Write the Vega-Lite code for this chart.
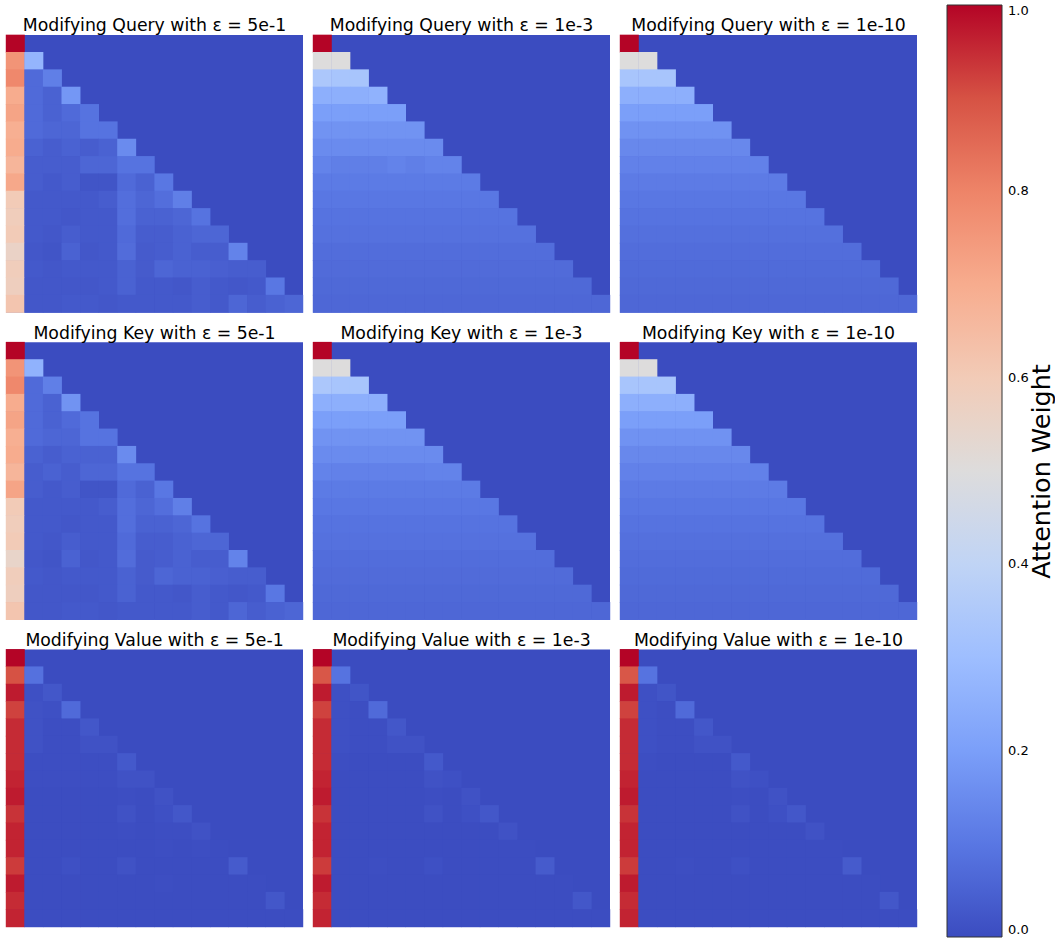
{"$schema":"https://vega.github.io/schema/vega-lite/v6.json","padding":{"left":5,"top":5,"right":0,"bottom":0},"background":"white","config":{"view":{"fill":"#3b4cc0","stroke":null},"font":"DejaVu Sans"},
"title":{"text":"Attention Weight","orient":"right","angle":270,"anchor":"middle","fontSize":25.5,"fontWeight":"normal","font":"DejaVu Sans","color":"#000","offset":-15,"dy":-10},
"data":{"values":[
{"p":"Q5","x":0,"y":0,"v":1},
{"p":"Q5","x":0,"y":1,"v":0.76},{"p":"Q5","x":1,"y":1,"v":0.27},
{"p":"Q5","x":0,"y":2,"v":0.79},{"p":"Q5","x":1,"y":2,"v":0.07},{"p":"Q5","x":2,"y":2,"v":0.12},
{"p":"Q5","x":0,"y":3,"v":0.7},{"p":"Q5","x":1,"y":3,"v":0.07},{"p":"Q5","x":2,"y":3,"v":0.05},{"p":"Q5","x":3,"y":3,"v":0.18},
{"p":"Q5","x":0,"y":4,"v":0.72},{"p":"Q5","x":1,"y":4,"v":0.07},{"p":"Q5","x":2,"y":4,"v":0.05},{"p":"Q5","x":3,"y":4,"v":0.07},{"p":"Q5","x":4,"y":4,"v":0.09},
{"p":"Q5","x":0,"y":5,"v":0.69},{"p":"Q5","x":1,"y":5,"v":0.07},{"p":"Q5","x":2,"y":5,"v":0.06},{"p":"Q5","x":3,"y":5,"v":0.06},{"p":"Q5","x":4,"y":5,"v":0.09},{"p":"Q5","x":5,"y":5,"v":0.09},
{"p":"Q5","x":0,"y":6,"v":0.7},{"p":"Q5","x":1,"y":6,"v":0.05},{"p":"Q5","x":2,"y":6,"v":0.04},{"p":"Q5","x":3,"y":6,"v":0.05},{"p":"Q5","x":4,"y":6,"v":0.04},{"p":"Q5","x":5,"y":6,"v":0.05},{"p":"Q5","x":6,"y":6,"v":0.15},
{"p":"Q5","x":0,"y":7,"v":0.67},{"p":"Q5","x":1,"y":7,"v":0.04},{"p":"Q5","x":2,"y":7,"v":0.04},{"p":"Q5","x":3,"y":7,"v":0.04},{"p":"Q5","x":4,"y":7,"v":0.06},{"p":"Q5","x":5,"y":7,"v":0.06},{"p":"Q5","x":6,"y":7,"v":0.09},{"p":"Q5","x":7,"y":7,"v":0.09},
{"p":"Q5","x":0,"y":8,"v":0.71},{"p":"Q5","x":1,"y":8,"v":0.04},{"p":"Q5","x":2,"y":8,"v":0.03},{"p":"Q5","x":3,"y":8,"v":0.04},{"p":"Q5","x":4,"y":8,"v":0.02},{"p":"Q5","x":5,"y":8,"v":0.02},{"p":"Q5","x":6,"y":8,"v":0.07},{"p":"Q5","x":7,"y":8,"v":0.05},{"p":"Q5","x":8,"y":8,"v":0.1},
{"p":"Q5","x":0,"y":9,"v":0.6},{"p":"Q5","x":1,"y":9,"v":0.03},{"p":"Q5","x":2,"y":9,"v":0.03},{"p":"Q5","x":3,"y":9,"v":0.03},{"p":"Q5","x":4,"y":9,"v":0.03},{"p":"Q5","x":5,"y":9,"v":0.04},{"p":"Q5","x":6,"y":9,"v":0.08},{"p":"Q5","x":7,"y":9,"v":0.06},{"p":"Q5","x":8,"y":9,"v":0.08},{"p":"Q5","x":9,"y":9,"v":0.12},
{"p":"Q5","x":0,"y":10,"v":0.59},{"p":"Q5","x":1,"y":10,"v":0.03},{"p":"Q5","x":2,"y":10,"v":0.03},{"p":"Q5","x":3,"y":10,"v":0.025},{"p":"Q5","x":4,"y":10,"v":0.03},{"p":"Q5","x":5,"y":10,"v":0.03},{"p":"Q5","x":6,"y":10,"v":0.08},{"p":"Q5","x":7,"y":10,"v":0.05},{"p":"Q5","x":8,"y":10,"v":0.05},{"p":"Q5","x":9,"y":10,"v":0.06},{"p":"Q5","x":10,"y":10,"v":0.09},
{"p":"Q5","x":0,"y":11,"v":0.6},{"p":"Q5","x":1,"y":11,"v":0.03},{"p":"Q5","x":2,"y":11,"v":0.025},{"p":"Q5","x":3,"y":11,"v":0.04},{"p":"Q5","x":4,"y":11,"v":0.03},{"p":"Q5","x":5,"y":11,"v":0.03},{"p":"Q5","x":6,"y":11,"v":0.07},{"p":"Q5","x":7,"y":11,"v":0.04},{"p":"Q5","x":8,"y":11,"v":0.04},{"p":"Q5","x":9,"y":11,"v":0.05},{"p":"Q5","x":10,"y":11,"v":0.06},{"p":"Q5","x":11,"y":11,"v":0.06},
{"p":"Q5","x":0,"y":12,"v":0.56},{"p":"Q5","x":1,"y":12,"v":0.025},{"p":"Q5","x":2,"y":12,"v":0.02},{"p":"Q5","x":3,"y":12,"v":0.05},{"p":"Q5","x":4,"y":12,"v":0.025},{"p":"Q5","x":5,"y":12,"v":0.03},{"p":"Q5","x":6,"y":12,"v":0.075},{"p":"Q5","x":7,"y":12,"v":0.035},{"p":"Q5","x":8,"y":12,"v":0.04},{"p":"Q5","x":9,"y":12,"v":0.05},{"p":"Q5","x":10,"y":12,"v":0.04},{"p":"Q5","x":11,"y":12,"v":0.04},{"p":"Q5","x":12,"y":12,"v":0.13},
{"p":"Q5","x":0,"y":13,"v":0.59},{"p":"Q5","x":1,"y":13,"v":0.03},{"p":"Q5","x":2,"y":13,"v":0.025},{"p":"Q5","x":3,"y":13,"v":0.03},{"p":"Q5","x":4,"y":13,"v":0.03},{"p":"Q5","x":5,"y":13,"v":0.03},{"p":"Q5","x":6,"y":13,"v":0.05},{"p":"Q5","x":7,"y":13,"v":0.035},{"p":"Q5","x":8,"y":13,"v":0.06},{"p":"Q5","x":9,"y":13,"v":0.05},{"p":"Q5","x":10,"y":13,"v":0.05},{"p":"Q5","x":11,"y":13,"v":0.045},{"p":"Q5","x":12,"y":13,"v":0.04},{"p":"Q5","x":13,"y":13,"v":0.04},
{"p":"Q5","x":0,"y":14,"v":0.58},{"p":"Q5","x":1,"y":14,"v":0.025},{"p":"Q5","x":2,"y":14,"v":0.025},{"p":"Q5","x":3,"y":14,"v":0.025},{"p":"Q5","x":4,"y":14,"v":0.025},{"p":"Q5","x":5,"y":14,"v":0.03},{"p":"Q5","x":6,"y":14,"v":0.05},{"p":"Q5","x":7,"y":14,"v":0.03},{"p":"Q5","x":8,"y":14,"v":0.03},{"p":"Q5","x":9,"y":14,"v":0.025},{"p":"Q5","x":10,"y":14,"v":0.04},{"p":"Q5","x":11,"y":14,"v":0.03},{"p":"Q5","x":12,"y":14,"v":0.025},{"p":"Q5","x":13,"y":14,"v":0.03},{"p":"Q5","x":14,"y":14,"v":0.1},
{"p":"Q5","x":0,"y":15,"v":0.62},{"p":"Q5","x":1,"y":15,"v":0.025},{"p":"Q5","x":2,"y":15,"v":0.025},{"p":"Q5","x":3,"y":15,"v":0.03},{"p":"Q5","x":4,"y":15,"v":0.03},{"p":"Q5","x":5,"y":15,"v":0.025},{"p":"Q5","x":6,"y":15,"v":0.03},{"p":"Q5","x":7,"y":15,"v":0.03},{"p":"Q5","x":8,"y":15,"v":0.03},{"p":"Q5","x":9,"y":15,"v":0.03},{"p":"Q5","x":10,"y":15,"v":0.04},{"p":"Q5","x":11,"y":15,"v":0.03},{"p":"Q5","x":12,"y":15,"v":0.06},{"p":"Q5","x":13,"y":15,"v":0.04},{"p":"Q5","x":14,"y":15,"v":0.05},{"p":"Q5","x":15,"y":15,"v":0.06},
{"p":"K5","x":0,"y":0,"v":1},
{"p":"K5","x":0,"y":1,"v":0.76},{"p":"K5","x":1,"y":1,"v":0.26},
{"p":"K5","x":0,"y":2,"v":0.79},{"p":"K5","x":1,"y":2,"v":0.07},{"p":"K5","x":2,"y":2,"v":0.12},
{"p":"K5","x":0,"y":3,"v":0.7},{"p":"K5","x":1,"y":3,"v":0.07},{"p":"K5","x":2,"y":3,"v":0.05},{"p":"K5","x":3,"y":3,"v":0.17},
{"p":"K5","x":0,"y":4,"v":0.72},{"p":"K5","x":1,"y":4,"v":0.07},{"p":"K5","x":2,"y":4,"v":0.05},{"p":"K5","x":3,"y":4,"v":0.07},{"p":"K5","x":4,"y":4,"v":0.09},
{"p":"K5","x":0,"y":5,"v":0.69},{"p":"K5","x":1,"y":5,"v":0.07},{"p":"K5","x":2,"y":5,"v":0.06},{"p":"K5","x":3,"y":5,"v":0.06},{"p":"K5","x":4,"y":5,"v":0.09},{"p":"K5","x":5,"y":5,"v":0.09},
{"p":"K5","x":0,"y":6,"v":0.7},{"p":"K5","x":1,"y":6,"v":0.05},{"p":"K5","x":2,"y":6,"v":0.04},{"p":"K5","x":3,"y":6,"v":0.05},{"p":"K5","x":4,"y":6,"v":0.05},{"p":"K5","x":5,"y":6,"v":0.05},{"p":"K5","x":6,"y":6,"v":0.15},
{"p":"K5","x":0,"y":7,"v":0.67},{"p":"K5","x":1,"y":7,"v":0.04},{"p":"K5","x":2,"y":7,"v":0.05},{"p":"K5","x":3,"y":7,"v":0.04},{"p":"K5","x":4,"y":7,"v":0.06},{"p":"K5","x":5,"y":7,"v":0.06},{"p":"K5","x":6,"y":7,"v":0.09},{"p":"K5","x":7,"y":7,"v":0.09},
{"p":"K5","x":0,"y":8,"v":0.72},{"p":"K5","x":1,"y":8,"v":0.04},{"p":"K5","x":2,"y":8,"v":0.03},{"p":"K5","x":3,"y":8,"v":0.04},{"p":"K5","x":4,"y":8,"v":0.02},{"p":"K5","x":5,"y":8,"v":0.02},{"p":"K5","x":6,"y":8,"v":0.07},{"p":"K5","x":7,"y":8,"v":0.05},{"p":"K5","x":8,"y":8,"v":0.1},
{"p":"K5","x":0,"y":9,"v":0.6},{"p":"K5","x":1,"y":9,"v":0.03},{"p":"K5","x":2,"y":9,"v":0.03},{"p":"K5","x":3,"y":9,"v":0.03},{"p":"K5","x":4,"y":9,"v":0.03},{"p":"K5","x":5,"y":9,"v":0.04},{"p":"K5","x":6,"y":9,"v":0.08},{"p":"K5","x":7,"y":9,"v":0.06},{"p":"K5","x":8,"y":9,"v":0.08},{"p":"K5","x":9,"y":9,"v":0.12},
{"p":"K5","x":0,"y":10,"v":0.59},{"p":"K5","x":1,"y":10,"v":0.03},{"p":"K5","x":2,"y":10,"v":0.03},{"p":"K5","x":3,"y":10,"v":0.025},{"p":"K5","x":4,"y":10,"v":0.03},{"p":"K5","x":5,"y":10,"v":0.03},{"p":"K5","x":6,"y":10,"v":0.08},{"p":"K5","x":7,"y":10,"v":0.05},{"p":"K5","x":8,"y":10,"v":0.05},{"p":"K5","x":9,"y":10,"v":0.06},{"p":"K5","x":10,"y":10,"v":0.09},
{"p":"K5","x":0,"y":11,"v":0.6},{"p":"K5","x":1,"y":11,"v":0.03},{"p":"K5","x":2,"y":11,"v":0.025},{"p":"K5","x":3,"y":11,"v":0.04},{"p":"K5","x":4,"y":11,"v":0.03},{"p":"K5","x":5,"y":11,"v":0.03},{"p":"K5","x":6,"y":11,"v":0.07},{"p":"K5","x":7,"y":11,"v":0.04},{"p":"K5","x":8,"y":11,"v":0.04},{"p":"K5","x":9,"y":11,"v":0.05},{"p":"K5","x":10,"y":11,"v":0.06},{"p":"K5","x":11,"y":11,"v":0.06},
{"p":"K5","x":0,"y":12,"v":0.55},{"p":"K5","x":1,"y":12,"v":0.025},{"p":"K5","x":2,"y":12,"v":0.02},{"p":"K5","x":3,"y":12,"v":0.05},{"p":"K5","x":4,"y":12,"v":0.025},{"p":"K5","x":5,"y":12,"v":0.03},{"p":"K5","x":6,"y":12,"v":0.075},{"p":"K5","x":7,"y":12,"v":0.035},{"p":"K5","x":8,"y":12,"v":0.04},{"p":"K5","x":9,"y":12,"v":0.05},{"p":"K5","x":10,"y":12,"v":0.04},{"p":"K5","x":11,"y":12,"v":0.04},{"p":"K5","x":12,"y":12,"v":0.13},
{"p":"K5","x":0,"y":13,"v":0.59},{"p":"K5","x":1,"y":13,"v":0.03},{"p":"K5","x":2,"y":13,"v":0.025},{"p":"K5","x":3,"y":13,"v":0.03},{"p":"K5","x":4,"y":13,"v":0.03},{"p":"K5","x":5,"y":13,"v":0.03},{"p":"K5","x":6,"y":13,"v":0.05},{"p":"K5","x":7,"y":13,"v":0.035},{"p":"K5","x":8,"y":13,"v":0.06},{"p":"K5","x":9,"y":13,"v":0.05},{"p":"K5","x":10,"y":13,"v":0.05},{"p":"K5","x":11,"y":13,"v":0.045},{"p":"K5","x":12,"y":13,"v":0.04},{"p":"K5","x":13,"y":13,"v":0.04},
{"p":"K5","x":0,"y":14,"v":0.58},{"p":"K5","x":1,"y":14,"v":0.025},{"p":"K5","x":2,"y":14,"v":0.025},{"p":"K5","x":3,"y":14,"v":0.025},{"p":"K5","x":4,"y":14,"v":0.025},{"p":"K5","x":5,"y":14,"v":0.03},{"p":"K5","x":6,"y":14,"v":0.05},{"p":"K5","x":7,"y":14,"v":0.03},{"p":"K5","x":8,"y":14,"v":0.03},{"p":"K5","x":9,"y":14,"v":0.025},{"p":"K5","x":10,"y":14,"v":0.04},{"p":"K5","x":11,"y":14,"v":0.03},{"p":"K5","x":12,"y":14,"v":0.025},{"p":"K5","x":13,"y":14,"v":0.03},{"p":"K5","x":14,"y":14,"v":0.1},
{"p":"K5","x":0,"y":15,"v":0.62},{"p":"K5","x":1,"y":15,"v":0.025},{"p":"K5","x":2,"y":15,"v":0.025},{"p":"K5","x":3,"y":15,"v":0.03},{"p":"K5","x":4,"y":15,"v":0.03},{"p":"K5","x":5,"y":15,"v":0.025},{"p":"K5","x":6,"y":15,"v":0.03},{"p":"K5","x":7,"y":15,"v":0.03},{"p":"K5","x":8,"y":15,"v":0.03},{"p":"K5","x":9,"y":15,"v":0.03},{"p":"K5","x":10,"y":15,"v":0.04},{"p":"K5","x":11,"y":15,"v":0.03},{"p":"K5","x":12,"y":15,"v":0.06},{"p":"K5","x":13,"y":15,"v":0.04},{"p":"K5","x":14,"y":15,"v":0.05},{"p":"K5","x":15,"y":15,"v":0.06},
{"p":"Q3","x":0,"y":0,"v":1},
{"p":"Q3","x":0,"y":1,"v":0.5},{"p":"Q3","x":1,"y":1,"v":0.5},
{"p":"Q3","x":0,"y":2,"v":0.34},{"p":"Q3","x":1,"y":2,"v":0.33},{"p":"Q3","x":2,"y":2,"v":0.33},
{"p":"Q3","x":0,"y":3,"v":0.25},{"p":"Q3","x":1,"y":3,"v":0.25},{"p":"Q3","x":2,"y":3,"v":0.25},{"p":"Q3","x":3,"y":3,"v":0.26},
{"p":"Q3","x":0,"y":4,"v":0.2},{"p":"Q3","x":1,"y":4,"v":0.2},{"p":"Q3","x":2,"y":4,"v":0.2},{"p":"Q3","x":3,"y":4,"v":0.2},{"p":"Q3","x":4,"y":4,"v":0.2},
{"p":"Q3","x":0,"y":5,"v":0.17},{"p":"Q3","x":1,"y":5,"v":0.17},{"p":"Q3","x":2,"y":5,"v":0.17},{"p":"Q3","x":3,"y":5,"v":0.17},{"p":"Q3","x":4,"y":5,"v":0.17},{"p":"Q3","x":5,"y":5,"v":0.17},
{"p":"Q3","x":0,"y":6,"v":0.15},{"p":"Q3","x":1,"y":6,"v":0.15},{"p":"Q3","x":2,"y":6,"v":0.15},{"p":"Q3","x":3,"y":6,"v":0.15},{"p":"Q3","x":4,"y":6,"v":0.15},{"p":"Q3","x":5,"y":6,"v":0.15},{"p":"Q3","x":6,"y":6,"v":0.15},
{"p":"Q3","x":0,"y":7,"v":0.13},{"p":"Q3","x":1,"y":7,"v":0.12},{"p":"Q3","x":2,"y":7,"v":0.12},{"p":"Q3","x":3,"y":7,"v":0.12},{"p":"Q3","x":4,"y":7,"v":0.13},{"p":"Q3","x":5,"y":7,"v":0.12},{"p":"Q3","x":6,"y":7,"v":0.13},{"p":"Q3","x":7,"y":7,"v":0.13},
{"p":"Q3","x":0,"y":8,"v":0.11},{"p":"Q3","x":1,"y":8,"v":0.11},{"p":"Q3","x":2,"y":8,"v":0.11},{"p":"Q3","x":3,"y":8,"v":0.11},{"p":"Q3","x":4,"y":8,"v":0.11},{"p":"Q3","x":5,"y":8,"v":0.11},{"p":"Q3","x":6,"y":8,"v":0.11},{"p":"Q3","x":7,"y":8,"v":0.11},{"p":"Q3","x":8,"y":8,"v":0.11},
{"p":"Q3","x":0,"y":9,"v":0.1},{"p":"Q3","x":1,"y":9,"v":0.1},{"p":"Q3","x":2,"y":9,"v":0.1},{"p":"Q3","x":3,"y":9,"v":0.1},{"p":"Q3","x":4,"y":9,"v":0.1},{"p":"Q3","x":5,"y":9,"v":0.1},{"p":"Q3","x":6,"y":9,"v":0.1},{"p":"Q3","x":7,"y":9,"v":0.1},{"p":"Q3","x":8,"y":9,"v":0.1},{"p":"Q3","x":9,"y":9,"v":0.1},
{"p":"Q3","x":0,"y":10,"v":0.09},{"p":"Q3","x":1,"y":10,"v":0.09},{"p":"Q3","x":2,"y":10,"v":0.09},{"p":"Q3","x":3,"y":10,"v":0.09},{"p":"Q3","x":4,"y":10,"v":0.09},{"p":"Q3","x":5,"y":10,"v":0.09},{"p":"Q3","x":6,"y":10,"v":0.09},{"p":"Q3","x":7,"y":10,"v":0.09},{"p":"Q3","x":8,"y":10,"v":0.09},{"p":"Q3","x":9,"y":10,"v":0.09},{"p":"Q3","x":10,"y":10,"v":0.09},
{"p":"Q3","x":0,"y":11,"v":0.085},{"p":"Q3","x":1,"y":11,"v":0.085},{"p":"Q3","x":2,"y":11,"v":0.085},{"p":"Q3","x":3,"y":11,"v":0.085},{"p":"Q3","x":4,"y":11,"v":0.085},{"p":"Q3","x":5,"y":11,"v":0.085},{"p":"Q3","x":6,"y":11,"v":0.085},{"p":"Q3","x":7,"y":11,"v":0.085},{"p":"Q3","x":8,"y":11,"v":0.085},{"p":"Q3","x":9,"y":11,"v":0.085},{"p":"Q3","x":10,"y":11,"v":0.085},{"p":"Q3","x":11,"y":11,"v":0.085},
{"p":"Q3","x":0,"y":12,"v":0.077},{"p":"Q3","x":1,"y":12,"v":0.077},{"p":"Q3","x":2,"y":12,"v":0.077},{"p":"Q3","x":3,"y":12,"v":0.077},{"p":"Q3","x":4,"y":12,"v":0.077},{"p":"Q3","x":5,"y":12,"v":0.077},{"p":"Q3","x":6,"y":12,"v":0.077},{"p":"Q3","x":7,"y":12,"v":0.077},{"p":"Q3","x":8,"y":12,"v":0.077},{"p":"Q3","x":9,"y":12,"v":0.077},{"p":"Q3","x":10,"y":12,"v":0.077},{"p":"Q3","x":11,"y":12,"v":0.077},{"p":"Q3","x":12,"y":12,"v":0.077},
{"p":"Q3","x":0,"y":13,"v":0.072},{"p":"Q3","x":1,"y":13,"v":0.072},{"p":"Q3","x":2,"y":13,"v":0.072},{"p":"Q3","x":3,"y":13,"v":0.072},{"p":"Q3","x":4,"y":13,"v":0.072},{"p":"Q3","x":5,"y":13,"v":0.072},{"p":"Q3","x":6,"y":13,"v":0.072},{"p":"Q3","x":7,"y":13,"v":0.072},{"p":"Q3","x":8,"y":13,"v":0.072},{"p":"Q3","x":9,"y":13,"v":0.072},{"p":"Q3","x":10,"y":13,"v":0.072},{"p":"Q3","x":11,"y":13,"v":0.072},{"p":"Q3","x":12,"y":13,"v":0.072},{"p":"Q3","x":13,"y":13,"v":0.072},
{"p":"Q3","x":0,"y":14,"v":0.067},{"p":"Q3","x":1,"y":14,"v":0.067},{"p":"Q3","x":2,"y":14,"v":0.067},{"p":"Q3","x":3,"y":14,"v":0.067},{"p":"Q3","x":4,"y":14,"v":0.067},{"p":"Q3","x":5,"y":14,"v":0.067},{"p":"Q3","x":6,"y":14,"v":0.067},{"p":"Q3","x":7,"y":14,"v":0.067},{"p":"Q3","x":8,"y":14,"v":0.067},{"p":"Q3","x":9,"y":14,"v":0.067},{"p":"Q3","x":10,"y":14,"v":0.067},{"p":"Q3","x":11,"y":14,"v":0.067},{"p":"Q3","x":12,"y":14,"v":0.067},{"p":"Q3","x":13,"y":14,"v":0.067},{"p":"Q3","x":14,"y":14,"v":0.067},
{"p":"Q3","x":0,"y":15,"v":0.062},{"p":"Q3","x":1,"y":15,"v":0.062},{"p":"Q3","x":2,"y":15,"v":0.062},{"p":"Q3","x":3,"y":15,"v":0.062},{"p":"Q3","x":4,"y":15,"v":0.062},{"p":"Q3","x":5,"y":15,"v":0.062},{"p":"Q3","x":6,"y":15,"v":0.062},{"p":"Q3","x":7,"y":15,"v":0.062},{"p":"Q3","x":8,"y":15,"v":0.062},{"p":"Q3","x":9,"y":15,"v":0.062},{"p":"Q3","x":10,"y":15,"v":0.062},{"p":"Q3","x":11,"y":15,"v":0.062},{"p":"Q3","x":12,"y":15,"v":0.062},{"p":"Q3","x":13,"y":15,"v":0.062},{"p":"Q3","x":14,"y":15,"v":0.062},{"p":"Q3","x":15,"y":15,"v":0.062},
{"p":"K3","x":0,"y":0,"v":1},
{"p":"K3","x":0,"y":1,"v":0.5},{"p":"K3","x":1,"y":1,"v":0.5},
{"p":"K3","x":0,"y":2,"v":0.34},{"p":"K3","x":1,"y":2,"v":0.33},{"p":"K3","x":2,"y":2,"v":0.33},
{"p":"K3","x":0,"y":3,"v":0.25},{"p":"K3","x":1,"y":3,"v":0.25},{"p":"K3","x":2,"y":3,"v":0.25},{"p":"K3","x":3,"y":3,"v":0.25},
{"p":"K3","x":0,"y":4,"v":0.2},{"p":"K3","x":1,"y":4,"v":0.2},{"p":"K3","x":2,"y":4,"v":0.2},{"p":"K3","x":3,"y":4,"v":0.2},{"p":"K3","x":4,"y":4,"v":0.2},
{"p":"K3","x":0,"y":5,"v":0.17},{"p":"K3","x":1,"y":5,"v":0.17},{"p":"K3","x":2,"y":5,"v":0.17},{"p":"K3","x":3,"y":5,"v":0.17},{"p":"K3","x":4,"y":5,"v":0.17},{"p":"K3","x":5,"y":5,"v":0.17},
{"p":"K3","x":0,"y":6,"v":0.15},{"p":"K3","x":1,"y":6,"v":0.15},{"p":"K3","x":2,"y":6,"v":0.15},{"p":"K3","x":3,"y":6,"v":0.15},{"p":"K3","x":4,"y":6,"v":0.15},{"p":"K3","x":5,"y":6,"v":0.15},{"p":"K3","x":6,"y":6,"v":0.15},
{"p":"K3","x":0,"y":7,"v":0.13},{"p":"K3","x":1,"y":7,"v":0.125},{"p":"K3","x":2,"y":7,"v":0.125},{"p":"K3","x":3,"y":7,"v":0.125},{"p":"K3","x":4,"y":7,"v":0.125},{"p":"K3","x":5,"y":7,"v":0.125},{"p":"K3","x":6,"y":7,"v":0.13},{"p":"K3","x":7,"y":7,"v":0.13},
{"p":"K3","x":0,"y":8,"v":0.11},{"p":"K3","x":1,"y":8,"v":0.11},{"p":"K3","x":2,"y":8,"v":0.11},{"p":"K3","x":3,"y":8,"v":0.11},{"p":"K3","x":4,"y":8,"v":0.11},{"p":"K3","x":5,"y":8,"v":0.11},{"p":"K3","x":6,"y":8,"v":0.11},{"p":"K3","x":7,"y":8,"v":0.11},{"p":"K3","x":8,"y":8,"v":0.11},
{"p":"K3","x":0,"y":9,"v":0.1},{"p":"K3","x":1,"y":9,"v":0.1},{"p":"K3","x":2,"y":9,"v":0.1},{"p":"K3","x":3,"y":9,"v":0.1},{"p":"K3","x":4,"y":9,"v":0.1},{"p":"K3","x":5,"y":9,"v":0.1},{"p":"K3","x":6,"y":9,"v":0.1},{"p":"K3","x":7,"y":9,"v":0.1},{"p":"K3","x":8,"y":9,"v":0.1},{"p":"K3","x":9,"y":9,"v":0.1},
{"p":"K3","x":0,"y":10,"v":0.09},{"p":"K3","x":1,"y":10,"v":0.09},{"p":"K3","x":2,"y":10,"v":0.09},{"p":"K3","x":3,"y":10,"v":0.09},{"p":"K3","x":4,"y":10,"v":0.09},{"p":"K3","x":5,"y":10,"v":0.09},{"p":"K3","x":6,"y":10,"v":0.09},{"p":"K3","x":7,"y":10,"v":0.09},{"p":"K3","x":8,"y":10,"v":0.09},{"p":"K3","x":9,"y":10,"v":0.09},{"p":"K3","x":10,"y":10,"v":0.09},
{"p":"K3","x":0,"y":11,"v":0.085},{"p":"K3","x":1,"y":11,"v":0.085},{"p":"K3","x":2,"y":11,"v":0.085},{"p":"K3","x":3,"y":11,"v":0.085},{"p":"K3","x":4,"y":11,"v":0.085},{"p":"K3","x":5,"y":11,"v":0.085},{"p":"K3","x":6,"y":11,"v":0.085},{"p":"K3","x":7,"y":11,"v":0.085},{"p":"K3","x":8,"y":11,"v":0.085},{"p":"K3","x":9,"y":11,"v":0.085},{"p":"K3","x":10,"y":11,"v":0.085},{"p":"K3","x":11,"y":11,"v":0.085},
{"p":"K3","x":0,"y":12,"v":0.077},{"p":"K3","x":1,"y":12,"v":0.077},{"p":"K3","x":2,"y":12,"v":0.077},{"p":"K3","x":3,"y":12,"v":0.077},{"p":"K3","x":4,"y":12,"v":0.077},{"p":"K3","x":5,"y":12,"v":0.077},{"p":"K3","x":6,"y":12,"v":0.077},{"p":"K3","x":7,"y":12,"v":0.077},{"p":"K3","x":8,"y":12,"v":0.077},{"p":"K3","x":9,"y":12,"v":0.077},{"p":"K3","x":10,"y":12,"v":0.077},{"p":"K3","x":11,"y":12,"v":0.077},{"p":"K3","x":12,"y":12,"v":0.077},
{"p":"K3","x":0,"y":13,"v":0.072},{"p":"K3","x":1,"y":13,"v":0.072},{"p":"K3","x":2,"y":13,"v":0.072},{"p":"K3","x":3,"y":13,"v":0.072},{"p":"K3","x":4,"y":13,"v":0.072},{"p":"K3","x":5,"y":13,"v":0.072},{"p":"K3","x":6,"y":13,"v":0.072},{"p":"K3","x":7,"y":13,"v":0.072},{"p":"K3","x":8,"y":13,"v":0.072},{"p":"K3","x":9,"y":13,"v":0.072},{"p":"K3","x":10,"y":13,"v":0.072},{"p":"K3","x":11,"y":13,"v":0.072},{"p":"K3","x":12,"y":13,"v":0.072},{"p":"K3","x":13,"y":13,"v":0.072},
{"p":"K3","x":0,"y":14,"v":0.067},{"p":"K3","x":1,"y":14,"v":0.067},{"p":"K3","x":2,"y":14,"v":0.067},{"p":"K3","x":3,"y":14,"v":0.067},{"p":"K3","x":4,"y":14,"v":0.067},{"p":"K3","x":5,"y":14,"v":0.067},{"p":"K3","x":6,"y":14,"v":0.067},{"p":"K3","x":7,"y":14,"v":0.067},{"p":"K3","x":8,"y":14,"v":0.067},{"p":"K3","x":9,"y":14,"v":0.067},{"p":"K3","x":10,"y":14,"v":0.067},{"p":"K3","x":11,"y":14,"v":0.067},{"p":"K3","x":12,"y":14,"v":0.067},{"p":"K3","x":13,"y":14,"v":0.067},{"p":"K3","x":14,"y":14,"v":0.067},
{"p":"K3","x":0,"y":15,"v":0.062},{"p":"K3","x":1,"y":15,"v":0.062},{"p":"K3","x":2,"y":15,"v":0.062},{"p":"K3","x":3,"y":15,"v":0.062},{"p":"K3","x":4,"y":15,"v":0.062},{"p":"K3","x":5,"y":15,"v":0.062},{"p":"K3","x":6,"y":15,"v":0.062},{"p":"K3","x":7,"y":15,"v":0.062},{"p":"K3","x":8,"y":15,"v":0.062},{"p":"K3","x":9,"y":15,"v":0.062},{"p":"K3","x":10,"y":15,"v":0.062},{"p":"K3","x":11,"y":15,"v":0.062},{"p":"K3","x":12,"y":15,"v":0.062},{"p":"K3","x":13,"y":15,"v":0.062},{"p":"K3","x":14,"y":15,"v":0.062},{"p":"K3","x":15,"y":15,"v":0.062},
{"p":"Q10","x":0,"y":0,"v":1},
{"p":"Q10","x":0,"y":1,"v":0.5},{"p":"Q10","x":1,"y":1,"v":0.5},
{"p":"Q10","x":0,"y":2,"v":0.33},{"p":"Q10","x":1,"y":2,"v":0.33},{"p":"Q10","x":2,"y":2,"v":0.33},
{"p":"Q10","x":0,"y":3,"v":0.25},{"p":"Q10","x":1,"y":3,"v":0.25},{"p":"Q10","x":2,"y":3,"v":0.25},{"p":"Q10","x":3,"y":3,"v":0.25},
{"p":"Q10","x":0,"y":4,"v":0.2},{"p":"Q10","x":1,"y":4,"v":0.2},{"p":"Q10","x":2,"y":4,"v":0.2},{"p":"Q10","x":3,"y":4,"v":0.2},{"p":"Q10","x":4,"y":4,"v":0.2},
{"p":"Q10","x":0,"y":5,"v":0.167},{"p":"Q10","x":1,"y":5,"v":0.167},{"p":"Q10","x":2,"y":5,"v":0.167},{"p":"Q10","x":3,"y":5,"v":0.167},{"p":"Q10","x":4,"y":5,"v":0.167},{"p":"Q10","x":5,"y":5,"v":0.167},
{"p":"Q10","x":0,"y":6,"v":0.143},{"p":"Q10","x":1,"y":6,"v":0.143},{"p":"Q10","x":2,"y":6,"v":0.143},{"p":"Q10","x":3,"y":6,"v":0.143},{"p":"Q10","x":4,"y":6,"v":0.143},{"p":"Q10","x":5,"y":6,"v":0.143},{"p":"Q10","x":6,"y":6,"v":0.143},
{"p":"Q10","x":0,"y":7,"v":0.125},{"p":"Q10","x":1,"y":7,"v":0.125},{"p":"Q10","x":2,"y":7,"v":0.125},{"p":"Q10","x":3,"y":7,"v":0.125},{"p":"Q10","x":4,"y":7,"v":0.125},{"p":"Q10","x":5,"y":7,"v":0.125},{"p":"Q10","x":6,"y":7,"v":0.125},{"p":"Q10","x":7,"y":7,"v":0.125},
{"p":"Q10","x":0,"y":8,"v":0.111},{"p":"Q10","x":1,"y":8,"v":0.111},{"p":"Q10","x":2,"y":8,"v":0.111},{"p":"Q10","x":3,"y":8,"v":0.111},{"p":"Q10","x":4,"y":8,"v":0.111},{"p":"Q10","x":5,"y":8,"v":0.111},{"p":"Q10","x":6,"y":8,"v":0.111},{"p":"Q10","x":7,"y":8,"v":0.111},{"p":"Q10","x":8,"y":8,"v":0.111},
{"p":"Q10","x":0,"y":9,"v":0.1},{"p":"Q10","x":1,"y":9,"v":0.1},{"p":"Q10","x":2,"y":9,"v":0.1},{"p":"Q10","x":3,"y":9,"v":0.1},{"p":"Q10","x":4,"y":9,"v":0.1},{"p":"Q10","x":5,"y":9,"v":0.1},{"p":"Q10","x":6,"y":9,"v":0.1},{"p":"Q10","x":7,"y":9,"v":0.1},{"p":"Q10","x":8,"y":9,"v":0.1},{"p":"Q10","x":9,"y":9,"v":0.1},
{"p":"Q10","x":0,"y":10,"v":0.091},{"p":"Q10","x":1,"y":10,"v":0.091},{"p":"Q10","x":2,"y":10,"v":0.091},{"p":"Q10","x":3,"y":10,"v":0.091},{"p":"Q10","x":4,"y":10,"v":0.091},{"p":"Q10","x":5,"y":10,"v":0.091},{"p":"Q10","x":6,"y":10,"v":0.091},{"p":"Q10","x":7,"y":10,"v":0.091},{"p":"Q10","x":8,"y":10,"v":0.091},{"p":"Q10","x":9,"y":10,"v":0.091},{"p":"Q10","x":10,"y":10,"v":0.091},
{"p":"Q10","x":0,"y":11,"v":0.083},{"p":"Q10","x":1,"y":11,"v":0.083},{"p":"Q10","x":2,"y":11,"v":0.083},{"p":"Q10","x":3,"y":11,"v":0.083},{"p":"Q10","x":4,"y":11,"v":0.083},{"p":"Q10","x":5,"y":11,"v":0.083},{"p":"Q10","x":6,"y":11,"v":0.083},{"p":"Q10","x":7,"y":11,"v":0.083},{"p":"Q10","x":8,"y":11,"v":0.083},{"p":"Q10","x":9,"y":11,"v":0.083},{"p":"Q10","x":10,"y":11,"v":0.083},{"p":"Q10","x":11,"y":11,"v":0.083},
{"p":"Q10","x":0,"y":12,"v":0.077},{"p":"Q10","x":1,"y":12,"v":0.077},{"p":"Q10","x":2,"y":12,"v":0.077},{"p":"Q10","x":3,"y":12,"v":0.077},{"p":"Q10","x":4,"y":12,"v":0.077},{"p":"Q10","x":5,"y":12,"v":0.077},{"p":"Q10","x":6,"y":12,"v":0.077},{"p":"Q10","x":7,"y":12,"v":0.077},{"p":"Q10","x":8,"y":12,"v":0.077},{"p":"Q10","x":9,"y":12,"v":0.077},{"p":"Q10","x":10,"y":12,"v":0.077},{"p":"Q10","x":11,"y":12,"v":0.077},{"p":"Q10","x":12,"y":12,"v":0.077},
{"p":"Q10","x":0,"y":13,"v":0.071},{"p":"Q10","x":1,"y":13,"v":0.071},{"p":"Q10","x":2,"y":13,"v":0.071},{"p":"Q10","x":3,"y":13,"v":0.071},{"p":"Q10","x":4,"y":13,"v":0.071},{"p":"Q10","x":5,"y":13,"v":0.071},{"p":"Q10","x":6,"y":13,"v":0.071},{"p":"Q10","x":7,"y":13,"v":0.071},{"p":"Q10","x":8,"y":13,"v":0.071},{"p":"Q10","x":9,"y":13,"v":0.071},{"p":"Q10","x":10,"y":13,"v":0.071},{"p":"Q10","x":11,"y":13,"v":0.071},{"p":"Q10","x":12,"y":13,"v":0.071},{"p":"Q10","x":13,"y":13,"v":0.071},
{"p":"Q10","x":0,"y":14,"v":0.067},{"p":"Q10","x":1,"y":14,"v":0.067},{"p":"Q10","x":2,"y":14,"v":0.067},{"p":"Q10","x":3,"y":14,"v":0.067},{"p":"Q10","x":4,"y":14,"v":0.067},{"p":"Q10","x":5,"y":14,"v":0.067},{"p":"Q10","x":6,"y":14,"v":0.067},{"p":"Q10","x":7,"y":14,"v":0.067},{"p":"Q10","x":8,"y":14,"v":0.067},{"p":"Q10","x":9,"y":14,"v":0.067},{"p":"Q10","x":10,"y":14,"v":0.067},{"p":"Q10","x":11,"y":14,"v":0.067},{"p":"Q10","x":12,"y":14,"v":0.067},{"p":"Q10","x":13,"y":14,"v":0.067},{"p":"Q10","x":14,"y":14,"v":0.067},
{"p":"Q10","x":0,"y":15,"v":0.062},{"p":"Q10","x":1,"y":15,"v":0.062},{"p":"Q10","x":2,"y":15,"v":0.062},{"p":"Q10","x":3,"y":15,"v":0.062},{"p":"Q10","x":4,"y":15,"v":0.062},{"p":"Q10","x":5,"y":15,"v":0.062},{"p":"Q10","x":6,"y":15,"v":0.062},{"p":"Q10","x":7,"y":15,"v":0.062},{"p":"Q10","x":8,"y":15,"v":0.062},{"p":"Q10","x":9,"y":15,"v":0.062},{"p":"Q10","x":10,"y":15,"v":0.062},{"p":"Q10","x":11,"y":15,"v":0.062},{"p":"Q10","x":12,"y":15,"v":0.062},{"p":"Q10","x":13,"y":15,"v":0.062},{"p":"Q10","x":14,"y":15,"v":0.062},{"p":"Q10","x":15,"y":15,"v":0.062},
{"p":"K10","x":0,"y":0,"v":1},
{"p":"K10","x":0,"y":1,"v":0.5},{"p":"K10","x":1,"y":1,"v":0.5},
{"p":"K10","x":0,"y":2,"v":0.33},{"p":"K10","x":1,"y":2,"v":0.33},{"p":"K10","x":2,"y":2,"v":0.33},
{"p":"K10","x":0,"y":3,"v":0.25},{"p":"K10","x":1,"y":3,"v":0.25},{"p":"K10","x":2,"y":3,"v":0.25},{"p":"K10","x":3,"y":3,"v":0.25},
{"p":"K10","x":0,"y":4,"v":0.2},{"p":"K10","x":1,"y":4,"v":0.2},{"p":"K10","x":2,"y":4,"v":0.2},{"p":"K10","x":3,"y":4,"v":0.2},{"p":"K10","x":4,"y":4,"v":0.2},
{"p":"K10","x":0,"y":5,"v":0.167},{"p":"K10","x":1,"y":5,"v":0.167},{"p":"K10","x":2,"y":5,"v":0.167},{"p":"K10","x":3,"y":5,"v":0.167},{"p":"K10","x":4,"y":5,"v":0.167},{"p":"K10","x":5,"y":5,"v":0.167},
{"p":"K10","x":0,"y":6,"v":0.143},{"p":"K10","x":1,"y":6,"v":0.143},{"p":"K10","x":2,"y":6,"v":0.143},{"p":"K10","x":3,"y":6,"v":0.143},{"p":"K10","x":4,"y":6,"v":0.143},{"p":"K10","x":5,"y":6,"v":0.143},{"p":"K10","x":6,"y":6,"v":0.143},
{"p":"K10","x":0,"y":7,"v":0.125},{"p":"K10","x":1,"y":7,"v":0.125},{"p":"K10","x":2,"y":7,"v":0.125},{"p":"K10","x":3,"y":7,"v":0.125},{"p":"K10","x":4,"y":7,"v":0.125},{"p":"K10","x":5,"y":7,"v":0.125},{"p":"K10","x":6,"y":7,"v":0.125},{"p":"K10","x":7,"y":7,"v":0.125},
{"p":"K10","x":0,"y":8,"v":0.111},{"p":"K10","x":1,"y":8,"v":0.111},{"p":"K10","x":2,"y":8,"v":0.111},{"p":"K10","x":3,"y":8,"v":0.111},{"p":"K10","x":4,"y":8,"v":0.111},{"p":"K10","x":5,"y":8,"v":0.111},{"p":"K10","x":6,"y":8,"v":0.111},{"p":"K10","x":7,"y":8,"v":0.111},{"p":"K10","x":8,"y":8,"v":0.111},
{"p":"K10","x":0,"y":9,"v":0.1},{"p":"K10","x":1,"y":9,"v":0.1},{"p":"K10","x":2,"y":9,"v":0.1},{"p":"K10","x":3,"y":9,"v":0.1},{"p":"K10","x":4,"y":9,"v":0.1},{"p":"K10","x":5,"y":9,"v":0.1},{"p":"K10","x":6,"y":9,"v":0.1},{"p":"K10","x":7,"y":9,"v":0.1},{"p":"K10","x":8,"y":9,"v":0.1},{"p":"K10","x":9,"y":9,"v":0.1},
{"p":"K10","x":0,"y":10,"v":0.091},{"p":"K10","x":1,"y":10,"v":0.091},{"p":"K10","x":2,"y":10,"v":0.091},{"p":"K10","x":3,"y":10,"v":0.091},{"p":"K10","x":4,"y":10,"v":0.091},{"p":"K10","x":5,"y":10,"v":0.091},{"p":"K10","x":6,"y":10,"v":0.091},{"p":"K10","x":7,"y":10,"v":0.091},{"p":"K10","x":8,"y":10,"v":0.091},{"p":"K10","x":9,"y":10,"v":0.091},{"p":"K10","x":10,"y":10,"v":0.091},
{"p":"K10","x":0,"y":11,"v":0.083},{"p":"K10","x":1,"y":11,"v":0.083},{"p":"K10","x":2,"y":11,"v":0.083},{"p":"K10","x":3,"y":11,"v":0.083},{"p":"K10","x":4,"y":11,"v":0.083},{"p":"K10","x":5,"y":11,"v":0.083},{"p":"K10","x":6,"y":11,"v":0.083},{"p":"K10","x":7,"y":11,"v":0.083},{"p":"K10","x":8,"y":11,"v":0.083},{"p":"K10","x":9,"y":11,"v":0.083},{"p":"K10","x":10,"y":11,"v":0.083},{"p":"K10","x":11,"y":11,"v":0.083},
{"p":"K10","x":0,"y":12,"v":0.077},{"p":"K10","x":1,"y":12,"v":0.077},{"p":"K10","x":2,"y":12,"v":0.077},{"p":"K10","x":3,"y":12,"v":0.077},{"p":"K10","x":4,"y":12,"v":0.077},{"p":"K10","x":5,"y":12,"v":0.077},{"p":"K10","x":6,"y":12,"v":0.077},{"p":"K10","x":7,"y":12,"v":0.077},{"p":"K10","x":8,"y":12,"v":0.077},{"p":"K10","x":9,"y":12,"v":0.077},{"p":"K10","x":10,"y":12,"v":0.077},{"p":"K10","x":11,"y":12,"v":0.077},{"p":"K10","x":12,"y":12,"v":0.077},
{"p":"K10","x":0,"y":13,"v":0.071},{"p":"K10","x":1,"y":13,"v":0.071},{"p":"K10","x":2,"y":13,"v":0.071},{"p":"K10","x":3,"y":13,"v":0.071},{"p":"K10","x":4,"y":13,"v":0.071},{"p":"K10","x":5,"y":13,"v":0.071},{"p":"K10","x":6,"y":13,"v":0.071},{"p":"K10","x":7,"y":13,"v":0.071},{"p":"K10","x":8,"y":13,"v":0.071},{"p":"K10","x":9,"y":13,"v":0.071},{"p":"K10","x":10,"y":13,"v":0.071},{"p":"K10","x":11,"y":13,"v":0.071},{"p":"K10","x":12,"y":13,"v":0.071},{"p":"K10","x":13,"y":13,"v":0.071},
{"p":"K10","x":0,"y":14,"v":0.067},{"p":"K10","x":1,"y":14,"v":0.067},{"p":"K10","x":2,"y":14,"v":0.067},{"p":"K10","x":3,"y":14,"v":0.067},{"p":"K10","x":4,"y":14,"v":0.067},{"p":"K10","x":5,"y":14,"v":0.067},{"p":"K10","x":6,"y":14,"v":0.067},{"p":"K10","x":7,"y":14,"v":0.067},{"p":"K10","x":8,"y":14,"v":0.067},{"p":"K10","x":9,"y":14,"v":0.067},{"p":"K10","x":10,"y":14,"v":0.067},{"p":"K10","x":11,"y":14,"v":0.067},{"p":"K10","x":12,"y":14,"v":0.067},{"p":"K10","x":13,"y":14,"v":0.067},{"p":"K10","x":14,"y":14,"v":0.067},
{"p":"K10","x":0,"y":15,"v":0.062},{"p":"K10","x":1,"y":15,"v":0.062},{"p":"K10","x":2,"y":15,"v":0.062},{"p":"K10","x":3,"y":15,"v":0.062},{"p":"K10","x":4,"y":15,"v":0.062},{"p":"K10","x":5,"y":15,"v":0.062},{"p":"K10","x":6,"y":15,"v":0.062},{"p":"K10","x":7,"y":15,"v":0.062},{"p":"K10","x":8,"y":15,"v":0.062},{"p":"K10","x":9,"y":15,"v":0.062},{"p":"K10","x":10,"y":15,"v":0.062},{"p":"K10","x":11,"y":15,"v":0.062},{"p":"K10","x":12,"y":15,"v":0.062},{"p":"K10","x":13,"y":15,"v":0.062},{"p":"K10","x":14,"y":15,"v":0.062},{"p":"K10","x":15,"y":15,"v":0.062},
{"p":"V5","x":0,"y":0,"v":1},
{"p":"V5","x":0,"y":1,"v":0.9},{"p":"V5","x":1,"y":1,"v":0.085},
{"p":"V5","x":0,"y":2,"v":0.97},{"p":"V5","x":1,"y":2,"v":0.01},{"p":"V5","x":2,"y":2,"v":0.025},
{"p":"V5","x":0,"y":3,"v":0.92},{"p":"V5","x":1,"y":3,"v":0.015},{"p":"V5","x":2,"y":3,"v":0.01},{"p":"V5","x":3,"y":3,"v":0.07},
{"p":"V5","x":0,"y":4,"v":0.95},{"p":"V5","x":1,"y":4,"v":0.015},{"p":"V5","x":2,"y":4,"v":0.005},{"p":"V5","x":3,"y":4,"v":0.005},{"p":"V5","x":4,"y":4,"v":0.025},
{"p":"V5","x":0,"y":5,"v":0.95},{"p":"V5","x":1,"y":5,"v":0.015},{"p":"V5","x":2,"y":5,"v":0.005},{"p":"V5","x":3,"y":5,"v":0.005},{"p":"V5","x":4,"y":5,"v":0.015},{"p":"V5","x":5,"y":5,"v":0.015},
{"p":"V5","x":0,"y":6,"v":0.95},{"p":"V5","x":1,"y":6,"v":0.005},{"p":"V5","x":2,"y":6,"v":0.005},{"p":"V5","x":3,"y":6,"v":0.005},{"p":"V5","x":4,"y":6,"v":0.005},{"p":"V5","x":5,"y":6,"v":0.005},{"p":"V5","x":6,"y":6,"v":0.03},
{"p":"V5","x":0,"y":7,"v":0.96},{"p":"V5","x":1,"y":7,"v":0.005},{"p":"V5","x":2,"y":7,"v":0.005},{"p":"V5","x":3,"y":7,"v":0.005},{"p":"V5","x":4,"y":7,"v":0.005},{"p":"V5","x":5,"y":7,"v":0.005},{"p":"V5","x":6,"y":7,"v":0.015},{"p":"V5","x":7,"y":7,"v":0.015},
{"p":"V5","x":0,"y":8,"v":0.97},{"p":"V5","x":1,"y":8,"v":0.003},{"p":"V5","x":2,"y":8,"v":0.003},{"p":"V5","x":3,"y":8,"v":0.003},{"p":"V5","x":4,"y":8,"v":0.003},{"p":"V5","x":5,"y":8,"v":0.003},{"p":"V5","x":6,"y":8,"v":0.005},{"p":"V5","x":7,"y":8,"v":0.003},{"p":"V5","x":8,"y":8,"v":0.015},
{"p":"V5","x":0,"y":9,"v":0.94},{"p":"V5","x":1,"y":9,"v":0.003},{"p":"V5","x":2,"y":9,"v":0.003},{"p":"V5","x":3,"y":9,"v":0.003},{"p":"V5","x":4,"y":9,"v":0.003},{"p":"V5","x":5,"y":9,"v":0.003},{"p":"V5","x":6,"y":9,"v":0.015},{"p":"V5","x":7,"y":9,"v":0.003},{"p":"V5","x":8,"y":9,"v":0.01},{"p":"V5","x":9,"y":9,"v":0.025},
{"p":"V5","x":0,"y":10,"v":0.96},{"p":"V5","x":1,"y":10,"v":0.003},{"p":"V5","x":2,"y":10,"v":0.003},{"p":"V5","x":3,"y":10,"v":0.003},{"p":"V5","x":4,"y":10,"v":0.003},{"p":"V5","x":5,"y":10,"v":0.003},{"p":"V5","x":6,"y":10,"v":0.005},{"p":"V5","x":7,"y":10,"v":0.003},{"p":"V5","x":8,"y":10,"v":0.005},{"p":"V5","x":9,"y":10,"v":0.005},{"p":"V5","x":10,"y":10,"v":0.015},
{"p":"V5","x":0,"y":11,"v":0.96},{"p":"V5","x":1,"y":11,"v":0.003},{"p":"V5","x":2,"y":11,"v":0.003},{"p":"V5","x":3,"y":11,"v":0.003},{"p":"V5","x":4,"y":11,"v":0.003},{"p":"V5","x":5,"y":11,"v":0.003},{"p":"V5","x":6,"y":11,"v":0.003},{"p":"V5","x":7,"y":11,"v":0.003},{"p":"V5","x":8,"y":11,"v":0.005},{"p":"V5","x":9,"y":11,"v":0.003},{"p":"V5","x":10,"y":11,"v":0.005},{"p":"V5","x":11,"y":11,"v":0.003},
{"p":"V5","x":0,"y":12,"v":0.93},{"p":"V5","x":1,"y":12,"v":0.003},{"p":"V5","x":2,"y":12,"v":0.003},{"p":"V5","x":3,"y":12,"v":0.01},{"p":"V5","x":4,"y":12,"v":0.003},{"p":"V5","x":5,"y":12,"v":0.003},{"p":"V5","x":6,"y":12,"v":0.015},{"p":"V5","x":7,"y":12,"v":0.003},{"p":"V5","x":8,"y":12,"v":0.003},{"p":"V5","x":9,"y":12,"v":0.003},{"p":"V5","x":10,"y":12,"v":0.003},{"p":"V5","x":11,"y":12,"v":0.003},{"p":"V5","x":12,"y":12,"v":0.035},
{"p":"V5","x":0,"y":13,"v":0.97},{"p":"V5","x":1,"y":13,"v":0.003},{"p":"V5","x":2,"y":13,"v":0.003},{"p":"V5","x":3,"y":13,"v":0.003},{"p":"V5","x":4,"y":13,"v":0.003},{"p":"V5","x":5,"y":13,"v":0.003},{"p":"V5","x":6,"y":13,"v":0.003},{"p":"V5","x":7,"y":13,"v":0.003},{"p":"V5","x":8,"y":13,"v":0.005},{"p":"V5","x":9,"y":13,"v":0.003},{"p":"V5","x":10,"y":13,"v":0.003},{"p":"V5","x":11,"y":13,"v":0.003},{"p":"V5","x":12,"y":13,"v":0.003},{"p":"V5","x":13,"y":13,"v":0.003},
{"p":"V5","x":0,"y":14,"v":0.95},{"p":"V5","x":1,"y":14,"v":0.003},{"p":"V5","x":2,"y":14,"v":0.003},{"p":"V5","x":3,"y":14,"v":0.003},{"p":"V5","x":4,"y":14,"v":0.003},{"p":"V5","x":5,"y":14,"v":0.003},{"p":"V5","x":6,"y":14,"v":0.003},{"p":"V5","x":7,"y":14,"v":0.003},{"p":"V5","x":8,"y":14,"v":0.003},{"p":"V5","x":9,"y":14,"v":0.003},{"p":"V5","x":10,"y":14,"v":0.003},{"p":"V5","x":11,"y":14,"v":0.003},{"p":"V5","x":12,"y":14,"v":0.003},{"p":"V5","x":13,"y":14,"v":0.003},{"p":"V5","x":14,"y":14,"v":0.025},
{"p":"V5","x":0,"y":15,"v":0.96},{"p":"V5","x":1,"y":15,"v":0.003},{"p":"V5","x":2,"y":15,"v":0.003},{"p":"V5","x":3,"y":15,"v":0.003},{"p":"V5","x":4,"y":15,"v":0.003},{"p":"V5","x":5,"y":15,"v":0.003},{"p":"V5","x":6,"y":15,"v":0.003},{"p":"V5","x":7,"y":15,"v":0.003},{"p":"V5","x":8,"y":15,"v":0.003},{"p":"V5","x":9,"y":15,"v":0.003},{"p":"V5","x":10,"y":15,"v":0.003},{"p":"V5","x":11,"y":15,"v":0.003},{"p":"V5","x":12,"y":15,"v":0.003},{"p":"V5","x":13,"y":15,"v":0.003},{"p":"V5","x":14,"y":15,"v":0.003},{"p":"V5","x":15,"y":15,"v":0.003},
{"p":"V3","x":0,"y":0,"v":1},
{"p":"V3","x":0,"y":1,"v":0.89},{"p":"V3","x":1,"y":1,"v":0.09},
{"p":"V3","x":0,"y":2,"v":0.97},{"p":"V3","x":1,"y":2,"v":0.01},{"p":"V3","x":2,"y":2,"v":0.02},
{"p":"V3","x":0,"y":3,"v":0.92},{"p":"V3","x":1,"y":3,"v":0.01},{"p":"V3","x":2,"y":3,"v":0.005},{"p":"V3","x":3,"y":3,"v":0.07},
{"p":"V3","x":0,"y":4,"v":0.95},{"p":"V3","x":1,"y":4,"v":0.01},{"p":"V3","x":2,"y":4,"v":0.005},{"p":"V3","x":3,"y":4,"v":0.005},{"p":"V3","x":4,"y":4,"v":0.025},
{"p":"V3","x":0,"y":5,"v":0.95},{"p":"V3","x":1,"y":5,"v":0.01},{"p":"V3","x":2,"y":5,"v":0.005},{"p":"V3","x":3,"y":5,"v":0.005},{"p":"V3","x":4,"y":5,"v":0.015},{"p":"V3","x":5,"y":5,"v":0.015},
{"p":"V3","x":0,"y":6,"v":0.95},{"p":"V3","x":1,"y":6,"v":0.005},{"p":"V3","x":2,"y":6,"v":0.003},{"p":"V3","x":3,"y":6,"v":0.003},{"p":"V3","x":4,"y":6,"v":0.003},{"p":"V3","x":5,"y":6,"v":0.003},{"p":"V3","x":6,"y":6,"v":0.03},
{"p":"V3","x":0,"y":7,"v":0.96},{"p":"V3","x":1,"y":7,"v":0.003},{"p":"V3","x":2,"y":7,"v":0.003},{"p":"V3","x":3,"y":7,"v":0.003},{"p":"V3","x":4,"y":7,"v":0.003},{"p":"V3","x":5,"y":7,"v":0.003},{"p":"V3","x":6,"y":7,"v":0.015},{"p":"V3","x":7,"y":7,"v":0.01},
{"p":"V3","x":0,"y":8,"v":0.97},{"p":"V3","x":1,"y":8,"v":0.003},{"p":"V3","x":2,"y":8,"v":0.003},{"p":"V3","x":3,"y":8,"v":0.003},{"p":"V3","x":4,"y":8,"v":0.003},{"p":"V3","x":5,"y":8,"v":0.003},{"p":"V3","x":6,"y":8,"v":0.005},{"p":"V3","x":7,"y":8,"v":0.003},{"p":"V3","x":8,"y":8,"v":0.015},
{"p":"V3","x":0,"y":9,"v":0.94},{"p":"V3","x":1,"y":9,"v":0.003},{"p":"V3","x":2,"y":9,"v":0.003},{"p":"V3","x":3,"y":9,"v":0.003},{"p":"V3","x":4,"y":9,"v":0.003},{"p":"V3","x":5,"y":9,"v":0.003},{"p":"V3","x":6,"y":9,"v":0.015},{"p":"V3","x":7,"y":9,"v":0.003},{"p":"V3","x":8,"y":9,"v":0.01},{"p":"V3","x":9,"y":9,"v":0.025},
{"p":"V3","x":0,"y":10,"v":0.96},{"p":"V3","x":1,"y":10,"v":0.003},{"p":"V3","x":2,"y":10,"v":0.003},{"p":"V3","x":3,"y":10,"v":0.003},{"p":"V3","x":4,"y":10,"v":0.003},{"p":"V3","x":5,"y":10,"v":0.003},{"p":"V3","x":6,"y":10,"v":0.003},{"p":"V3","x":7,"y":10,"v":0.003},{"p":"V3","x":8,"y":10,"v":0.003},{"p":"V3","x":9,"y":10,"v":0.003},{"p":"V3","x":10,"y":10,"v":0.015},
{"p":"V3","x":0,"y":11,"v":0.96},{"p":"V3","x":1,"y":11,"v":0.003},{"p":"V3","x":2,"y":11,"v":0.003},{"p":"V3","x":3,"y":11,"v":0.003},{"p":"V3","x":4,"y":11,"v":0.003},{"p":"V3","x":5,"y":11,"v":0.003},{"p":"V3","x":6,"y":11,"v":0.003},{"p":"V3","x":7,"y":11,"v":0.003},{"p":"V3","x":8,"y":11,"v":0.003},{"p":"V3","x":9,"y":11,"v":0.003},{"p":"V3","x":10,"y":11,"v":0.003},{"p":"V3","x":11,"y":11,"v":0.003},
{"p":"V3","x":0,"y":12,"v":0.93},{"p":"V3","x":1,"y":12,"v":0.003},{"p":"V3","x":2,"y":12,"v":0.003},{"p":"V3","x":3,"y":12,"v":0.005},{"p":"V3","x":4,"y":12,"v":0.003},{"p":"V3","x":5,"y":12,"v":0.003},{"p":"V3","x":6,"y":12,"v":0.01},{"p":"V3","x":7,"y":12,"v":0.003},{"p":"V3","x":8,"y":12,"v":0.003},{"p":"V3","x":9,"y":12,"v":0.003},{"p":"V3","x":10,"y":12,"v":0.003},{"p":"V3","x":11,"y":12,"v":0.003},{"p":"V3","x":12,"y":12,"v":0.035},
{"p":"V3","x":0,"y":13,"v":0.97},{"p":"V3","x":1,"y":13,"v":0.003},{"p":"V3","x":2,"y":13,"v":0.003},{"p":"V3","x":3,"y":13,"v":0.003},{"p":"V3","x":4,"y":13,"v":0.003},{"p":"V3","x":5,"y":13,"v":0.003},{"p":"V3","x":6,"y":13,"v":0.003},{"p":"V3","x":7,"y":13,"v":0.003},{"p":"V3","x":8,"y":13,"v":0.003},{"p":"V3","x":9,"y":13,"v":0.003},{"p":"V3","x":10,"y":13,"v":0.003},{"p":"V3","x":11,"y":13,"v":0.003},{"p":"V3","x":12,"y":13,"v":0.003},{"p":"V3","x":13,"y":13,"v":0.003},
{"p":"V3","x":0,"y":14,"v":0.95},{"p":"V3","x":1,"y":14,"v":0.003},{"p":"V3","x":2,"y":14,"v":0.003},{"p":"V3","x":3,"y":14,"v":0.003},{"p":"V3","x":4,"y":14,"v":0.003},{"p":"V3","x":5,"y":14,"v":0.003},{"p":"V3","x":6,"y":14,"v":0.003},{"p":"V3","x":7,"y":14,"v":0.003},{"p":"V3","x":8,"y":14,"v":0.003},{"p":"V3","x":9,"y":14,"v":0.003},{"p":"V3","x":10,"y":14,"v":0.003},{"p":"V3","x":11,"y":14,"v":0.003},{"p":"V3","x":12,"y":14,"v":0.003},{"p":"V3","x":13,"y":14,"v":0.003},{"p":"V3","x":14,"y":14,"v":0.025},
{"p":"V3","x":0,"y":15,"v":0.96},{"p":"V3","x":1,"y":15,"v":0.003},{"p":"V3","x":2,"y":15,"v":0.003},{"p":"V3","x":3,"y":15,"v":0.003},{"p":"V3","x":4,"y":15,"v":0.003},{"p":"V3","x":5,"y":15,"v":0.003},{"p":"V3","x":6,"y":15,"v":0.003},{"p":"V3","x":7,"y":15,"v":0.003},{"p":"V3","x":8,"y":15,"v":0.003},{"p":"V3","x":9,"y":15,"v":0.003},{"p":"V3","x":10,"y":15,"v":0.003},{"p":"V3","x":11,"y":15,"v":0.003},{"p":"V3","x":12,"y":15,"v":0.003},{"p":"V3","x":13,"y":15,"v":0.003},{"p":"V3","x":14,"y":15,"v":0.003},{"p":"V3","x":15,"y":15,"v":0.003},
{"p":"V10","x":0,"y":0,"v":1},
{"p":"V10","x":0,"y":1,"v":0.89},{"p":"V10","x":1,"y":1,"v":0.09},
{"p":"V10","x":0,"y":2,"v":0.97},{"p":"V10","x":1,"y":2,"v":0.01},{"p":"V10","x":2,"y":2,"v":0.02},
{"p":"V10","x":0,"y":3,"v":0.92},{"p":"V10","x":1,"y":3,"v":0.01},{"p":"V10","x":2,"y":3,"v":0.005},{"p":"V10","x":3,"y":3,"v":0.07},
{"p":"V10","x":0,"y":4,"v":0.95},{"p":"V10","x":1,"y":4,"v":0.01},{"p":"V10","x":2,"y":4,"v":0.005},{"p":"V10","x":3,"y":4,"v":0.005},{"p":"V10","x":4,"y":4,"v":0.025},
{"p":"V10","x":0,"y":5,"v":0.95},{"p":"V10","x":1,"y":5,"v":0.01},{"p":"V10","x":2,"y":5,"v":0.005},{"p":"V10","x":3,"y":5,"v":0.005},{"p":"V10","x":4,"y":5,"v":0.015},{"p":"V10","x":5,"y":5,"v":0.015},
{"p":"V10","x":0,"y":6,"v":0.95},{"p":"V10","x":1,"y":6,"v":0.005},{"p":"V10","x":2,"y":6,"v":0.003},{"p":"V10","x":3,"y":6,"v":0.003},{"p":"V10","x":4,"y":6,"v":0.003},{"p":"V10","x":5,"y":6,"v":0.003},{"p":"V10","x":6,"y":6,"v":0.03},
{"p":"V10","x":0,"y":7,"v":0.96},{"p":"V10","x":1,"y":7,"v":0.003},{"p":"V10","x":2,"y":7,"v":0.003},{"p":"V10","x":3,"y":7,"v":0.003},{"p":"V10","x":4,"y":7,"v":0.003},{"p":"V10","x":5,"y":7,"v":0.003},{"p":"V10","x":6,"y":7,"v":0.015},{"p":"V10","x":7,"y":7,"v":0.01},
{"p":"V10","x":0,"y":8,"v":0.97},{"p":"V10","x":1,"y":8,"v":0.003},{"p":"V10","x":2,"y":8,"v":0.003},{"p":"V10","x":3,"y":8,"v":0.003},{"p":"V10","x":4,"y":8,"v":0.003},{"p":"V10","x":5,"y":8,"v":0.003},{"p":"V10","x":6,"y":8,"v":0.005},{"p":"V10","x":7,"y":8,"v":0.003},{"p":"V10","x":8,"y":8,"v":0.015},
{"p":"V10","x":0,"y":9,"v":0.94},{"p":"V10","x":1,"y":9,"v":0.003},{"p":"V10","x":2,"y":9,"v":0.003},{"p":"V10","x":3,"y":9,"v":0.003},{"p":"V10","x":4,"y":9,"v":0.003},{"p":"V10","x":5,"y":9,"v":0.003},{"p":"V10","x":6,"y":9,"v":0.015},{"p":"V10","x":7,"y":9,"v":0.003},{"p":"V10","x":8,"y":9,"v":0.01},{"p":"V10","x":9,"y":9,"v":0.025},
{"p":"V10","x":0,"y":10,"v":0.96},{"p":"V10","x":1,"y":10,"v":0.003},{"p":"V10","x":2,"y":10,"v":0.003},{"p":"V10","x":3,"y":10,"v":0.003},{"p":"V10","x":4,"y":10,"v":0.003},{"p":"V10","x":5,"y":10,"v":0.003},{"p":"V10","x":6,"y":10,"v":0.003},{"p":"V10","x":7,"y":10,"v":0.003},{"p":"V10","x":8,"y":10,"v":0.003},{"p":"V10","x":9,"y":10,"v":0.003},{"p":"V10","x":10,"y":10,"v":0.015},
{"p":"V10","x":0,"y":11,"v":0.96},{"p":"V10","x":1,"y":11,"v":0.003},{"p":"V10","x":2,"y":11,"v":0.003},{"p":"V10","x":3,"y":11,"v":0.003},{"p":"V10","x":4,"y":11,"v":0.003},{"p":"V10","x":5,"y":11,"v":0.003},{"p":"V10","x":6,"y":11,"v":0.003},{"p":"V10","x":7,"y":11,"v":0.003},{"p":"V10","x":8,"y":11,"v":0.003},{"p":"V10","x":9,"y":11,"v":0.003},{"p":"V10","x":10,"y":11,"v":0.003},{"p":"V10","x":11,"y":11,"v":0.003},
{"p":"V10","x":0,"y":12,"v":0.93},{"p":"V10","x":1,"y":12,"v":0.003},{"p":"V10","x":2,"y":12,"v":0.003},{"p":"V10","x":3,"y":12,"v":0.005},{"p":"V10","x":4,"y":12,"v":0.003},{"p":"V10","x":5,"y":12,"v":0.003},{"p":"V10","x":6,"y":12,"v":0.01},{"p":"V10","x":7,"y":12,"v":0.003},{"p":"V10","x":8,"y":12,"v":0.003},{"p":"V10","x":9,"y":12,"v":0.003},{"p":"V10","x":10,"y":12,"v":0.003},{"p":"V10","x":11,"y":12,"v":0.003},{"p":"V10","x":12,"y":12,"v":0.035},
{"p":"V10","x":0,"y":13,"v":0.97},{"p":"V10","x":1,"y":13,"v":0.003},{"p":"V10","x":2,"y":13,"v":0.003},{"p":"V10","x":3,"y":13,"v":0.003},{"p":"V10","x":4,"y":13,"v":0.003},{"p":"V10","x":5,"y":13,"v":0.003},{"p":"V10","x":6,"y":13,"v":0.003},{"p":"V10","x":7,"y":13,"v":0.003},{"p":"V10","x":8,"y":13,"v":0.003},{"p":"V10","x":9,"y":13,"v":0.003},{"p":"V10","x":10,"y":13,"v":0.003},{"p":"V10","x":11,"y":13,"v":0.003},{"p":"V10","x":12,"y":13,"v":0.003},{"p":"V10","x":13,"y":13,"v":0.003},
{"p":"V10","x":0,"y":14,"v":0.95},{"p":"V10","x":1,"y":14,"v":0.003},{"p":"V10","x":2,"y":14,"v":0.003},{"p":"V10","x":3,"y":14,"v":0.003},{"p":"V10","x":4,"y":14,"v":0.003},{"p":"V10","x":5,"y":14,"v":0.003},{"p":"V10","x":6,"y":14,"v":0.003},{"p":"V10","x":7,"y":14,"v":0.003},{"p":"V10","x":8,"y":14,"v":0.003},{"p":"V10","x":9,"y":14,"v":0.003},{"p":"V10","x":10,"y":14,"v":0.003},{"p":"V10","x":11,"y":14,"v":0.003},{"p":"V10","x":12,"y":14,"v":0.003},{"p":"V10","x":13,"y":14,"v":0.003},{"p":"V10","x":14,"y":14,"v":0.025},
{"p":"V10","x":0,"y":15,"v":0.96},{"p":"V10","x":1,"y":15,"v":0.003},{"p":"V10","x":2,"y":15,"v":0.003},{"p":"V10","x":3,"y":15,"v":0.003},{"p":"V10","x":4,"y":15,"v":0.003},{"p":"V10","x":5,"y":15,"v":0.003},{"p":"V10","x":6,"y":15,"v":0.003},{"p":"V10","x":7,"y":15,"v":0.003},{"p":"V10","x":8,"y":15,"v":0.003},{"p":"V10","x":9,"y":15,"v":0.003},{"p":"V10","x":10,"y":15,"v":0.003},{"p":"V10","x":11,"y":15,"v":0.003},{"p":"V10","x":12,"y":15,"v":0.003},{"p":"V10","x":13,"y":15,"v":0.003},{"p":"V10","x":14,"y":15,"v":0.003},{"p":"V10","x":15,"y":15,"v":0.003}
]},
"columns":3,
"facet":{"field":"p","sort":["Q5","Q3","Q10","K5","K3","K10","V5","V3","V10"],"title":null,"header":{"labelFontSize":17.3,"labelFont":"DejaVu Sans","labelColor":"#000","labelPadding":0,"labelExpr":"{'Q5':'Modifying Query with ε = 5e-1','Q3':'Modifying Query with ε = 1e-3','Q10':'Modifying Query with ε = 1e-10','K5':'Modifying Key with ε = 5e-1','K3':'Modifying Key with ε = 1e-3','K10':'Modifying Key with ε = 1e-10','V5':'Modifying Value with ε = 5e-1','V3':'Modifying Value with ε = 1e-3','V10':'Modifying Value with ε = 1e-10'}[datum.value]"}},
"spacing":{"column":8,"row":11.2},
"spec":{"width":297,"height":277.5,"mark":{"type":"rect","width":19,"height":18},"encoding":{
"x":{"field":"x","type":"ordinal","axis":null,"scale":{"domain":[0,1,2,3,4,5,6,7,8,9,10,11,12,13,14,15]}},
"y":{"field":"y","type":"ordinal","axis":null,"scale":{"domain":[0,1,2,3,4,5,6,7,8,9,10,11,12,13,14,15]}},
"color":{"field":"v","type":"quantitative","scale":{"domain":[0,0.1,0.2,0.3,0.4,0.5,0.6,0.7,0.8,0.9,1],"range":["#3b4cc0","#5977e3","#7b9ff9","#9ebeff","#c0d4f5","#dddcdc","#f2cbb7","#f7ac8e","#ee8468","#d65244","#b40426"],"interpolate":"rgb"},"legend":{"orient":"none","legendX":941,"legendY":-30,"title":null,"gradientLength":932,"gradientThickness":55,"gradientStrokeColor":"#333","gradientStrokeWidth":1,"values":[0,0.2,0.4,0.6,0.8,1],"format":".1f","labelFontSize":13,"labelFont":"DejaVu Sans","labelColor":"#000","labelOffset":6}}
}}}
